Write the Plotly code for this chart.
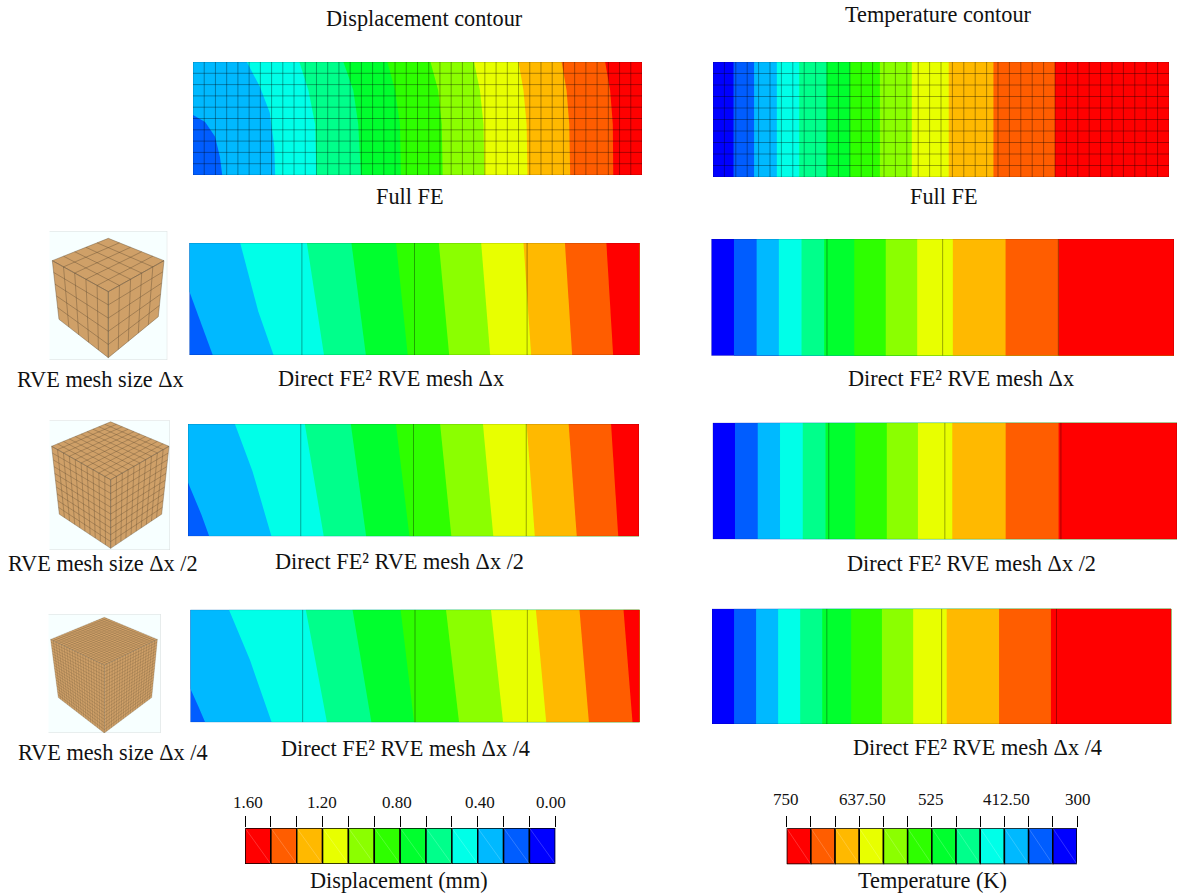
import plotly.graph_objects as go

W, H = 1177, 896
FONT = "Liberation Serif"

# Contour level colours, lowest to highest value
LEVEL_COLORS = ["#0000ff", "#005dff", "#00b9ff", "#00ffe8", "#00ff8b", "#00ff2e",
                "#2eff00", "#8bff00", "#e8ff00", "#ffb900", "#ff5d00", "#ff0000"]

# Contour boundaries: [depth through beam 0..1, position along beam in %]
D2 = [0, 1]
D4 = [0, 0.25, 0.55, 1]
FULL_DISP = [
    [[0, 0.47, 0.53, 0.66, 0.84, 1], [0, 0, 2.7, 4.9, 6.0, 6.5]],
    [[0, 0.22, 0.45, 0.75, 1], [12.0, 14.9, 17.1, 18.1, 18.3]],
    [D4, [23.7, 25.7, 27.2, 27.5]],
    [D4, [33.5, 35.7, 36.8, 37.4]],
    [D4, [43.3, 45.0, 46.1, 46.3]],
    [D4, [52.9, 54.6, 55.4, 55.6]],
    [D4, [62.6, 63.9, 64.7, 64.9]],
    [D4, [72.5, 73.6, 74.3, 74.5]],
    [D4, [82.1, 83.2, 83.8, 84.0]],
    [D4, [91.8, 92.9, 93.5, 93.6]],
]
DIRECT_DISP_1 = [
    [[0, 0.43, 1], [0, 0, 5.2]],
    [[0, 0.61, 1], [11.3, 15.3, 18.7]],
    [D2, [26.1, 29.9]], [D2, [36.0, 39.2]], [D2, [45.9, 48.5]], [D2, [55.4, 57.7]],
    [D2, [64.8, 66.8]], [D2, [74.2, 75.9]], [D2, [83.4, 85.0]], [D2, [92.6, 94.1]],
]
DIRECT_DISP_2 = [
    [[0, 0.52, 0.81, 1], [0, 0, 3.0, 4.7]],
    [[0, 0.42, 1], [10.4, 14.3, 18.5]],
    [D2, [25.9, 30.1]], [D2, [36.1, 39.5]], [D2, [46.1, 49.1]], [D2, [55.9, 58.4]],
    [D2, [65.4, 67.7]], [D2, [75.1, 76.9]], [D2, [84.4, 86.2]], [D2, [93.8, 95.4]],
]
DIRECT_DISP_3 = [
    [[0, 0.70, 0.86, 1], [0, 0, 1.8, 3.3]],
    [[0, 0.45, 1], [8.6, 13.3, 18.1]],
    [D2, [25.7, 30.4]], [D2, [36.1, 40.3]], [D2, [46.8, 49.8]], [D2, [56.9, 59.8]],
    [D2, [66.9, 69.6]], [D2, [76.9, 79.2]], [D2, [86.6, 88.7]], [D2, [96.4, 98.4]],
]
FULL_TEMP = [4.5, 9.0, 14.0, 18.9, 24.9, 30.1, 36.6, 43.6, 51.7, 61.5, 75.0]
DIRECT_TEMP_1 = [4.9, 9.8, 14.6, 19.5, 24.4, 30.9, 37.7, 44.5, 52.2, 63.6, 75.1]
DIRECT_TEMP_2 = [4.8, 9.7, 14.5, 19.4, 24.3, 30.7, 37.5, 44.2, 51.6, 63.1, 74.5]
DIRECT_TEMP_3 = [4.8, 9.6, 14.4, 19.2, 24.0, 30.3, 37.0, 43.8, 51.1, 62.5, 73.8]

FULL_MESH = (40, 10)
COARSE_ELEMENT_EDGES = [25, 50, 75]

# RVE cube corners; elements per edge
CUBE_1 = dict(n=5, top=(205, 40), left=(37, 107), right=(372, 107), front=(205, 200),
              bottom=(205, 398), lb=(57, 283), rb=(355, 275), xr=(28, 382), yr=(405, 18))
CUBE_2 = dict(n=10, top=(212, 22), left=(35, 95), right=(387, 95), front=(212, 195),
              bottom=(212, 400), lb=(58, 298), rb=(365, 298), xr=(28, 390), yr=(405, 18))
CUBE_3 = dict(n=20, top=(193, 22), left=(32, 88), right=(352, 88), front=(193, 165),
              bottom=(193, 368), lb=(55, 262), rb=(335, 262), xr=(25, 362), yr=(368, 12))

# Legend scales
DISP_LABEL_VALUES = [1.6, 1.2, 0.8, 0.4, 0.0]
DISP_LABELS = ["1.60", "1.20", "0.80", "0.40", "0.00"]
TEMP_LABEL_VALUES = [750, 637.5, 525, 412.5, 300]
TEMP_LABELS = ["750", "637.50", "525", "412.50", "300"]

fig = go.Figure()
axis_count = [0]


def new_axes(x0, x1, y0, y1, xr, yr, **xkw):
    """Create a pair of axes placed at a pixel box; returns trace refs."""
    axis_count[0] += 1
    k = axis_count[0]
    xa = dict(domain=[x0 / W, x1 / W], range=list(xr), anchor=f"y{k}", visible=False,
              fixedrange=True)
    xa.update(xkw)
    ya = dict(domain=[1 - y1 / H, 1 - y0 / H], range=list(yr), anchor=f"x{k}", visible=False,
              fixedrange=True)
    fig.update_layout({f"xaxis{k}": xa, f"yaxis{k}": ya})
    return f"x{k}", f"y{k}"


def poly(ax, xs, ys, color, line=None):
    fig.add_trace(go.Scatter(
        x=xs, y=ys, mode="lines", fill="toself", fillcolor=color,
        line=dict(width=line[1], color=line[0]) if line else dict(width=0),
        xaxis=ax[0], yaxis=ax[1], hoverinfo="skip", showlegend=False))


def lines(ax, xs, ys, color, width):
    fig.add_trace(go.Scatter(
        x=xs, y=ys, mode="lines", line=dict(width=width, color=color),
        xaxis=ax[0], yaxis=ax[1], hoverinfo="skip", showlegend=False, connectgaps=False))


def contour_panel(box, bounds, base, mesh=None, edges=None):
    ax = new_axes(*box, (0, 100), (1, 0))
    poly(ax, [0, 100, 100, 0], [0, 0, 1, 1], LEVEL_COLORS[base])
    for i, b in enumerate(bounds):
        if isinstance(b, (int, float)):
            b = [D2, [b, b]]
        depth, pos = b
        poly(ax, list(pos) + [100, 100], list(depth) + [1, 0], LEVEL_COLORS[base + 1 + i])
    if mesh:
        nx, ny = mesh
        xs, ys = [], []
        for i in range(1, nx):
            xs += [100 * i / nx, 100 * i / nx, None]
            ys += [0, 1, None]
        for j in range(1, ny):
            xs += [0, 100, None]
            ys += [j / ny, j / ny, None]
        lines(ax, xs, ys, "rgba(0,0,0,0.34)", 1)
    if edges:
        xs, ys = [], []
        for e in edges:
            xs += [e, e, None]
            ys += [0, 1, None]
        lines(ax, xs, ys, "rgba(0,0,0,0.35)", 1)
    lines(ax, [0, 100, 100, 0, 0], [0, 0, 1, 1, 0], "rgba(0,0,0,0.22)", 1)


def mix(a, b, t):
    return (a[0] + (b[0] - a[0]) * t, a[1] + (b[1] - a[1]) * t)


def cube(box, c, width):
    ax = new_axes(*box, c["xr"], c["yr"])
    xr, yr = c["xr"], c["yr"]
    poly(ax, [xr[0], xr[1], xr[1], xr[0]], [yr[0], yr[0], yr[1], yr[1]], "#f7ffff",
         line=("#d9dddd", 1))
    faces = [(c["top"], c["right"], c["front"], c["left"]),
             (c["left"], c["front"], c["bottom"], c["lb"]),
             (c["front"], c["right"], c["rb"], c["bottom"])]
    n = c["n"]
    for f in faces:
        p = [f[0], f[1], f[2], f[3], f[0]]
        poly(ax, [q[0] for q in p], [q[1] for q in p], "#cfa068")
    xs, ys = [], []
    for f in faces:
        a, b, d, e = f
        for i in range(n + 1):
            t = i / n
            for p, q in ((mix(a, b, t), mix(e, d, t)), (mix(a, e, t), mix(b, d, t))):
                xs += [p[0], q[0], None]
                ys += [p[1], q[1], None]
    lines(ax, xs, ys, "rgba(95,75,50,0.5)", width)


def legend(box, vmax, vmin, label_values, labels, shifts, label_y):
    n = len(LEVEL_COLORS)
    step = (vmax - vmin) / n
    edge_vals = [vmax - step * i for i in range(n + 1)]
    ax = new_axes(*box, (vmax, vmin), (0, 1), visible=True, side="top", showgrid=False,
                  zeroline=False, showline=False, ticks="outside", ticklen=11, tickwidth=1,
                  tickcolor="#000", tickmode="array", tickvals=edge_vals,
                  showticklabels=False)
    ds = []
    for i, col in enumerate(reversed(LEVEL_COLORS)):
        a, b = edge_vals[i], edge_vals[i + 1]
        poly(ax, [a, b, b, a, a], [0, 0, 1, 1, 0], col, line=("#000", 1.5))
        ds += [a, b, None]
    dy = []
    for _ in LEVEL_COLORS:
        dy += [1, 0, None]
    lines(ax, ds, dy, "rgba(255,255,255,0.28)", 0.7)
    for v, t, s in zip(label_values, labels, shifts):
        fig.add_annotation(x=v, y=1 - label_y / H, xref=ax[0], yref="paper", text=t, xshift=s,
                           xanchor="center", yanchor="middle", showarrow=False,
                           font=dict(family=FONT, size=17, color="#111"))


contour_panel((193, 642, 62, 175), FULL_DISP, 1, mesh=FULL_MESH)
contour_panel((189.3, 639.7, 243, 355), DIRECT_DISP_1, 1, edges=COARSE_ELEMENT_EDGES)
contour_panel((188, 639, 424, 536.3), DIRECT_DISP_2, 1, edges=COARSE_ELEMENT_EDGES)
contour_panel((190.3, 639.7, 609.7, 722.3), DIRECT_DISP_3, 1, edges=COARSE_ELEMENT_EDGES)
contour_panel((713, 1169, 62, 177), FULL_TEMP, 0, mesh=FULL_MESH)
contour_panel((711.3, 1174, 239, 355.7), DIRECT_TEMP_1, 0, edges=COARSE_ELEMENT_EDGES)
contour_panel((712.7, 1177, 422.7, 539.3), DIRECT_TEMP_2, 0, edges=COARSE_ELEMENT_EDGES)
contour_panel((712, 1171.3, 608.7, 724), DIRECT_TEMP_3, 0, edges=COARSE_ELEMENT_EDGES)

cube((49.3, 167.3, 231, 360), CUBE_1, 0.8)
cube((49.3, 170, 420.5, 550), CUBE_2, 0.7)
cube((48.3, 160.7, 614, 733), CUBE_3, 0.45)

legend((245, 555.3, 828, 864), 1.6, 0.0, DISP_LABEL_VALUES, DISP_LABELS, [3, -1, -3, 2, -4], 802)
legend((786.7, 1077, 828.3, 864.3), 750, 300, TEMP_LABEL_VALUES, TEMP_LABELS, [-1, 3, -1, 2, 1], 799)

TEXTS = [
    ("Displacement contour", 424, 19), ("Temperature contour", 938, 15),
    ("Full FE", 410, 197), ("Full FE", 944, 197),
    ("RVE mesh size Δx", 100.5, 379), ("Direct FE² RVE mesh Δx", 391, 378),
    ("Direct FE² RVE mesh Δx", 961, 378),
    ("RVE mesh size Δx /2", 102.5, 563), ("Direct FE² RVE mesh Δx /2", 399, 561),
    ("Direct FE² RVE mesh Δx /2", 971, 563),
    ("RVE mesh size Δx /4", 112.5, 752), ("Direct FE² RVE mesh Δx /4", 405, 748),
    ("Direct FE² RVE mesh Δx /4", 977, 747),
    ("Displacement (mm)", 399, 880), ("Temperature (K)", 932, 880),
]
for t, x, y in TEXTS:
    fig.add_annotation(x=x / W, y=1 - y / H, xref="paper", yref="paper", text=t, showarrow=False,
                       xanchor="center", yanchor="middle",
                       font=dict(family=FONT, size=22.3, color="#111"))

fig.update_layout(width=W, height=H, margin=dict(l=0, r=0, t=0, b=0),
                  paper_bgcolor="white", plot_bgcolor="white", showlegend=False)
fig.write_html("out.html", post_script="document.body.style.margin='0';",
               config=dict(displayModeBar=False))
